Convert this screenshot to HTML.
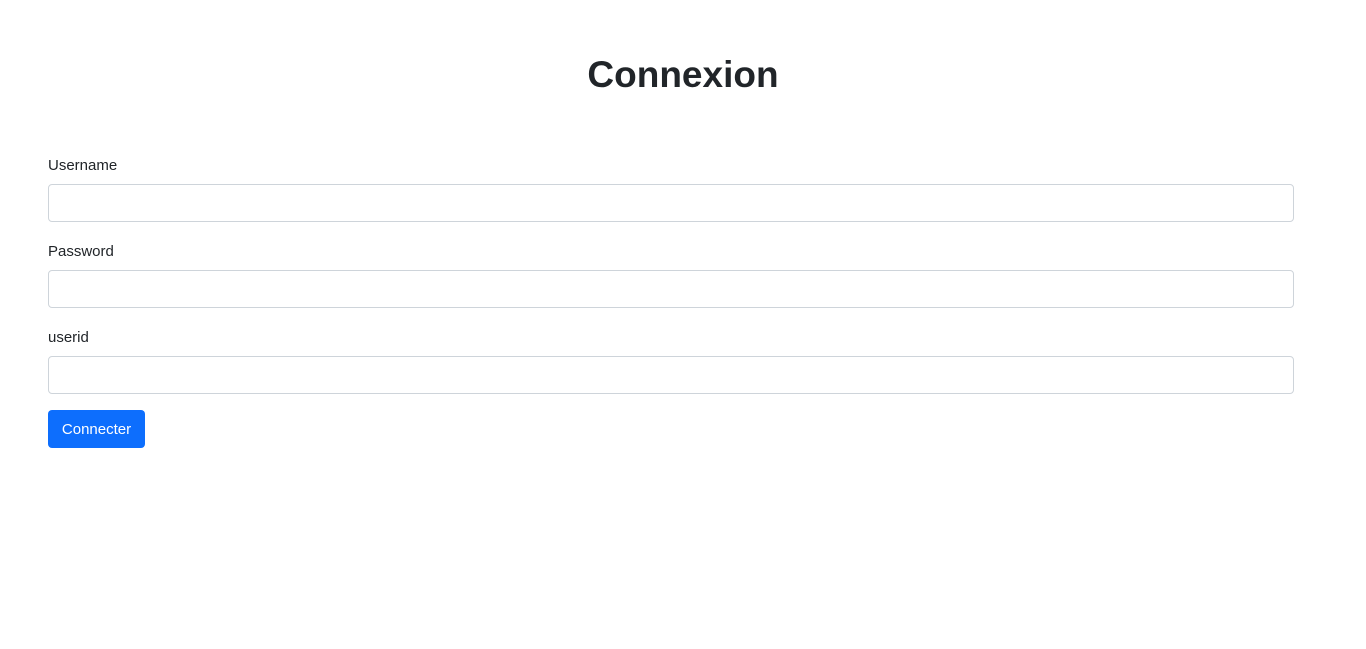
<!DOCTYPE html>
<html><head><meta charset="utf-8">
<style>
html,body{margin:0;padding:0;background:#fff;width:1366px;height:649px;overflow:hidden;font-family:"Liberation Sans",sans-serif;color:#212529}
h1{position:absolute;left:0;width:1366px;top:50px;margin:0;text-align:center;font-size:37px;font-weight:bold;line-height:50px;color:#212529}
label{position:absolute;left:48px;font-size:15px;line-height:20px;color:#212529}
.inp{position:absolute;left:48px;width:1244px;height:36px;border:1px solid #ced4da;border-radius:4px;background:#fff;box-sizing:content-box}
button{position:absolute;left:48px;top:410px;width:97px;height:38px;background:#0d6efd;color:#fff;border:none;border-radius:4px;font-family:"Liberation Sans",sans-serif;font-size:15px;padding:0;padding-top:1px}
</style></head><body>
<h1>Connexion</h1>
<label style="top:156px">Username</label>
<div class="inp" style="top:184px"></div>
<label style="top:242px">Password</label>
<div class="inp" style="top:270px"></div>
<label style="top:328px">userid</label>
<div class="inp" style="top:356px"></div>
<button>Connecter</button>
</body></html>
